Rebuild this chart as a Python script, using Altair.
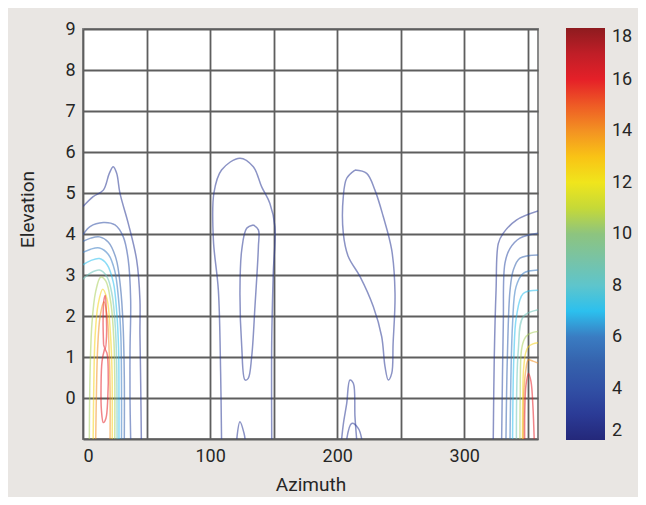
import altair as alt
import pandas as pd

# ---------------- data ----------------
AZ_GRID = [0, 50, 100, 150, 200, 250, 300, 350]
EL_GRID = [-1, 0, 1, 2, 3, 4, 5, 6, 7, 8, 9]
LEGEND_TICKS = [2, 4, 6, 8, 10, 12, 14, 16, 18]

COLOR_STOPS = [2, 3, 4, 5, 6, 7, 8, 9, 10, 11, 12, 13, 14, 15, 16, 17, 18]
COLOR_HEX = ["#24287a", "#2b3b96", "#3150a5", "#3562ad", "#3a7cc2", "#2cc0ee",
             "#5ec5cc", "#78c3a6", "#8dc47f", "#c5d938", "#f0e51c", "#f9c315",
             "#f39222", "#ee5b25", "#e52028", "#c01e27", "#8e1b1f"]

# contour paths (azimuth, elevation) and their levels
left_l3 = [(0, 4.67), (8, 4.91), (16, 5.07), (20.7, 5.48), (23.8, 5.64), (26.5, 5.48),
           (29.1, 4.99), (35.6, 4.26), (42.2, 3.37), (44.8, 2.39), (44.8, 1.58),
           (45.4, 0.36), (45.9, -1)]
left_l4 = [(0, 3.98), (5.5, 4.18), (16, 4.28), (25.2, 4.22), (31.7, 3.93), (35.6, 3.37),
           (37.5, 2.39), (37, 1.17), (37, -0.05), (37.5, -1)]
left_l5 = [(0, 3.82), (6, 3.9), (13, 3.93), (20, 3.8), (26, 3.4), (29.5, 2.7),
           (31.5, 1.8), (32.5, 0.5), (32.5, -1)]
left_l6 = [(0, 3.55), (6, 3.63), (13, 3.66), (20, 3.5), (25, 3.1), (28, 2.4),
           (29.8, 1.5), (30.3, 0.3), (30.3, -1)]
left_l7 = [(0, 3.25), (6, 3.35), (13, 3.4), (19, 3.25), (24, 2.8), (26.5, 2.1),
           (28, 1.2), (28.3, 0), (28.3, -1)]
left_l8 = [(0, 2.9), (6, 3.05), (13, 3.12), (19, 2.95), (23, 2.5), (25.5, 1.7),
           (26.5, 0.8), (26.8, -1)]
left_l10 = [(5, -1), (5.5, 0.5), (7, 1.8), (10, 2.6), (14, 2.95), (18, 2.85),
            (22, 2.3), (24.3, 1.4), (25, 0.5), (25, -1)]
left_l12 = [(8, -1), (8.5, 0.3), (9.5, 1.5), (12, 2.3), (15.5, 2.65), (19, 2.4),
            (21.5, 1.6), (22.8, 0.7), (23, -1)]
left_l14 = [(10, -1), (10.5, 0), (11.5, 1.2), (13.5, 2.0), (16.5, 2.35), (19, 2.0),
            (20.5, 1.2), (21.3, 0.2), (21.3, -1)]
left_l16a = [(16.2, 1.3), (15.8, 1.9), (16.5, 2.4), (17.5, 2.5), (18.3, 2.1),
             (18.5, 1.5), (17.5, 1.2), (16.2, 1.3)]
left_l16b = [(17, 1.2), (15, 0.9), (14.2, 0.3), (14.5, -0.3), (16, -0.6), (18, -0.5),
             (19.5, 0), (19.8, 0.7), (18.8, 1.1), (17, 1.2)]

mid_outer = [(109, -1), (108.3, 0.6), (106.5, 2.63), (102.6, 3.85), (103, 5.0),
             (109, 5.56), (123.5, 5.85), (134, 5.64), (140.6, 5.15), (147, 4.75),
             (151, 4.18), (149.7, 3.04), (148.5, 1.41), (148.5, -1)]
mid_inner = [(134, 4.22), (128.8, 4.14), (124.9, 3.61), (123.5, 2.63), (124.9, 1.25),
             (127.5, 0.44), (130, 0.48), (132.7, 1.0), (135.3, 2.23), (138, 3.69),
             (138, 4.1), (134, 4.22)]
mid_bump = [(121, -1), (123.5, -0.58), (126.7, -0.86), (127.5, -1)]

east_loop = [(214, 5.56), (207.5, 5.36), (204.8, 4.91), (204.8, 4.02), (208.7, 3.45),
             (218, 2.96), (228.4, 2.23), (235, 1.5), (237.6, 0.77), (240.2, 0.44),
             (242.9, 0.6), (244, 1.33), (245.5, 2.55), (242.9, 3.61), (236.3, 4.42),
             (229.7, 5.07), (223.2, 5.48), (214, 5.56)]
east_spike = [(203.5, -1), (205, -0.6), (207.5, -0.13), (210, 0.44), (212.7, 0.36),
              (214, -0.46), (215.3, -1)]
east_hook = [(207.5, -1), (211.4, -0.62), (216.6, -0.74), (219.3, -1)]

right_l3 = [(358, 4.56), (341, 4.34), (330.7, 4.02), (326.8, 3.77), (325, 2.63),
            (323.6, 1.0), (322.8, -1)]
right_l4 = [(358, 4.02), (343.8, 3.9), (336, 3.65), (332, 3.29), (330.7, 1.82),
            (329.4, -1)]
right_l5 = [(358, 3.49), (343.8, 3.41), (338.6, 3.12), (336, 2.63), (333.9, 1.0),
            (332.8, -1)]
right_l6 = [(358, 3.12), (346.4, 3.04), (340.7, 2.71), (338, 1.82), (336, -1)]
right_l7 = [(358, 2.63), (346.4, 2.55), (341, 1.98), (339, 1.0), (338, -1)]
right_l8 = [(358, 2.15), (346.4, 1.98), (342.5, 1.17), (341, -1)]
right_l10 = [(343.8, -1), (344, 0), (345, 1.17), (347.5, 1.45), (350.4, 1.55),
             (354, 1.6), (358, 1.62)]
right_l12 = [(345.8, -1), (346, 0), (346.6, 0.68), (348.3, 1.1), (350.4, 1.25),
             (354, 1.32), (358, 1.35)]
right_l14 = [(346.4, -1), (346.6, -0.3), (347, 0.2), (348.5, 0.7), (350.4, 0.93),
             (354, 0.9), (358, 0.85)]
right_l16 = [(347.5, -1), (347.6, -0.3), (348.5, 0.3), (350.5, 0.6), (352.5, 0.4),
             (354, -0.2), (355, -1)]

CONTOURS = [
    ("left_l3", 3, left_l3), ("left_l4", 4, left_l4), ("left_l5", 5, left_l5),
    ("left_l6", 6, left_l6), ("left_l7", 7, left_l7), ("left_l8", 8.5, left_l8),
    ("left_l10", 10.5, left_l10), ("left_l12", 12.5, left_l12),
    ("left_l14", 14, left_l14), ("left_l16a", 16, left_l16a), ("left_l16b", 16, left_l16b),
    ("mid_outer", 3, mid_outer), ("mid_inner", 3, mid_inner), ("mid_bump", 3, mid_bump),
    ("east_loop", 3, east_loop), ("east_spike", 3, east_spike), ("east_hook", 3, east_hook),
    ("right_l3", 3, right_l3), ("right_l4", 4, right_l4), ("right_l5", 5, right_l5),
    ("right_l6", 6, right_l6), ("right_l7", 7, right_l7), ("right_l8", 8.5, right_l8),
    ("right_l10", 10.5, right_l10), ("right_l12", 12.5, right_l12),
    ("right_l14", 14, right_l14), ("right_l16", 16, right_l16),
]

rows = []
for cid, level, pts in CONTOURS:
    for i, (a, e) in enumerate(pts):
        rows.append({"cid": cid, "level": level, "idx": i, "az": a, "el": e})
df = pd.DataFrame(rows)

FONT = "Roboto"
TXT = "#262626"

chart = alt.Chart(df).mark_line(
    interpolate="catmull-rom", strokeWidth=1.5, strokeOpacity=0.55, clip=True
).encode(
    x=alt.X("az:Q",
            scale=alt.Scale(domain=[0, 358], nice=False, zero=False),
            axis=alt.Axis(values=AZ_GRID, title="Azimuth",
                          labelExpr="datum.value % 100 == 0 ? datum.label : ''",
                          titleY=51, titleBaseline="alphabetic",
                          titleFontSize=19, titleFontWeight="normal")),
    y=alt.Y("el:Q",
            scale=alt.Scale(domain=[-1, 9], nice=False, zero=False),
            axis=alt.Axis(values=EL_GRID, title="Elevation",
                          labelExpr="datum.value >= 0 ? datum.label : ''",
                          titleX=-56, titleY=180, titleAngle=270,
                          titleAlign="center", titleBaseline="middle",
                          titleFontSize=19, titleFontWeight="normal")),
    color=alt.Color("level:Q",
                    scale=alt.Scale(domain=COLOR_STOPS, range=COLOR_HEX,
                                    interpolate="rgb"),
                    legend=alt.Legend(orient="none", legendX=483, legendY=-1,
                                      direction="vertical", title=None,
                                      values=LEGEND_TICKS, gradientLength=412,
                                      gradientThickness=39, gradientStrokeWidth=0,
                                      labelFontSize=18, labelFont=FONT,
                                      labelColor=TXT, labelOffset=7, padding=0)),
    detail="cid:N",
    order="idx:Q",
).properties(
    width=455, height=410,
    background="#e9e6e3",
    padding={"left": 75, "top": 21, "right": 100, "bottom": 58},
    autosize=alt.AutoSizeParams(type="none"),
).configure_view(
    stroke="#8a8a8a", strokeWidth=2, fill="white"
).configure_axis(
    grid=True, gridColor="#5e5e5e", gridWidth=1.8, gridOpacity=1,
    domain=False, ticks=False,
    labelFont=FONT, labelFontSize=18, labelColor=TXT, labelPadding=8,
    titleFont=FONT, titleColor=TXT,
)

chart.save("out.html", embed_options={"renderer": "svg", "actions": False})
